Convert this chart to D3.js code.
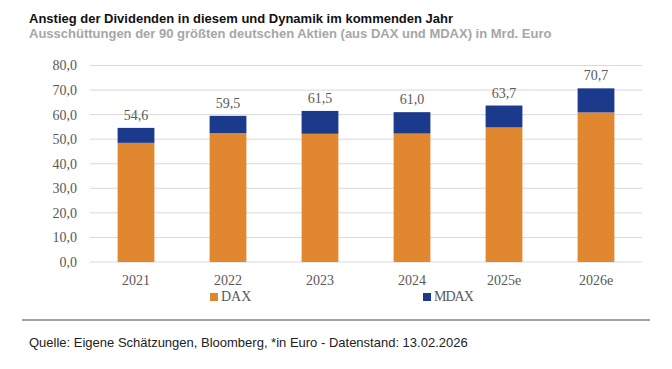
<!DOCTYPE html>
<html><head><meta charset="utf-8">
<script src="https://cdn.jsdelivr.net/npm/d3@7"></script>
<style>body{margin:0;background:#fff}svg{display:block}</style>
</head><body>
<script>
const categories = ["2021","2022","2023","2024","2025e","2026e"];
const daxValues  = [48.5, 52.5, 52.2, 52.3, 54.8, 60.9];
const totals     = [54.6, 59.5, 61.5, 61.0, 63.7, 70.7];
const mdaxValues = totals.map((t,i)=>+(t-daxValues[i]).toFixed(1));
const totalLabels = ["54,6","59,5","61,5","61,0","63,7","70,7"];
const yTicks = [0,10,20,30,40,50,60,70,80];
const seriesNames = ["DAX","MDAX"];
const colors = {DAX:"#E0872F", MDAX:"#1C3A8B"};

const W=672,H=369;
const svg=d3.select("body").append("svg").attr("width",W).attr("height",H);
const serif="'Liberation Serif','Times New Roman',serif";
const sans="'Liberation Sans',Arial,sans-serif";

svg.append("text").attr("x",29).attr("y",23).attr("font-family",sans).attr("font-weight","bold")
  .attr("font-size",13).attr("fill","#111").text("Anstieg der Dividenden in diesem und Dynamik im kommenden Jahr");
svg.append("text").attr("x",29).attr("y",38).attr("font-family",sans).attr("font-weight","bold")
  .attr("font-size",13).attr("fill","#a6a6a6").text("Ausschüttungen der 90 größten deutschen Aktien (aus DAX und MDAX) in Mrd. Euro");

const x=d3.scaleBand().domain(categories).range([90,642]).paddingInner(0.6).paddingOuter(0.3);
const y=d3.scaleLinear().domain([0,80]).range([262,65.5]);

// grid
svg.append("g").selectAll("line").data(yTicks).join("line")
  .attr("x1",90).attr("x2",642).attr("y1",d=>y(d)).attr("y2",d=>y(d))
  .attr("stroke","#d9d9d9").attr("stroke-width",1);

const yAxis=svg.append("g").attr("transform","translate(90,0)")
  .call(d3.axisLeft(y).tickValues(yTicks).tickSize(0).tickPadding(13).tickFormat(d=>d3.format(".1f")(d).replace(".",",")));
yAxis.select(".domain").remove();
yAxis.selectAll("text").attr("font-family",serif).attr("font-size",14).attr("fill","#595959");

const xAxis=svg.append("g").attr("transform","translate(0,262)")
  .call(d3.axisBottom(x).tickSize(0).tickPadding(13));
xAxis.select(".domain").remove();
xAxis.selectAll("text").attr("font-family",serif).attr("font-size",14).attr("fill","#595959");

const stackData=categories.map((c,i)=>({cat:c,DAX:daxValues[i],MDAX:mdaxValues[i]}));
const stack=d3.stack().keys(seriesNames)(stackData);
svg.append("g").selectAll("g").data(stack).join("g").attr("fill",d=>colors[d.key])
  .selectAll("rect").data(d=>d).join("rect")
  .attr("x",d=>x(d.data.cat)).attr("width",x.bandwidth())
  .attr("y",d=>y(d[1])).attr("height",d=>y(d[0])-y(d[1]));

svg.append("g").selectAll("text").data(categories).join("text")
  .attr("x",d=>x(d)+x.bandwidth()/2).attr("y",(d,i)=>y(totals[i])-8)
  .attr("text-anchor","middle").attr("font-family",serif).attr("font-size",14).attr("fill","#595959")
  .text((d,i)=>totalLabels[i]);

// legend
const legendX=[210,423];
const lg=svg.append("g").selectAll("g").data(seriesNames).join("g")
  .attr("transform",(d,i)=>`translate(${legendX[i]},293)`);
lg.append("rect").attr("width",8).attr("height",8).attr("fill",d=>colors[d]);
lg.append("text").attr("x",11).attr("y",8).attr("font-family",serif).attr("font-size",14)
  .attr("fill","#595959").attr("letter-spacing",d=>d==="MDAX"?"-1":"0").text(d=>d);

svg.append("line").attr("x1",22).attr("x2",650).attr("y1",320).attr("y2",320).attr("stroke","#444").attr("stroke-width",1.2);
svg.append("text").attr("x",29).attr("y",347).attr("font-family",sans).attr("font-size",13)
  .attr("fill","#222").text("Quelle: Eigene Schätzungen, Bloomberg, *in Euro - Datenstand: 13.02.2026");
</script>
</body></html>
